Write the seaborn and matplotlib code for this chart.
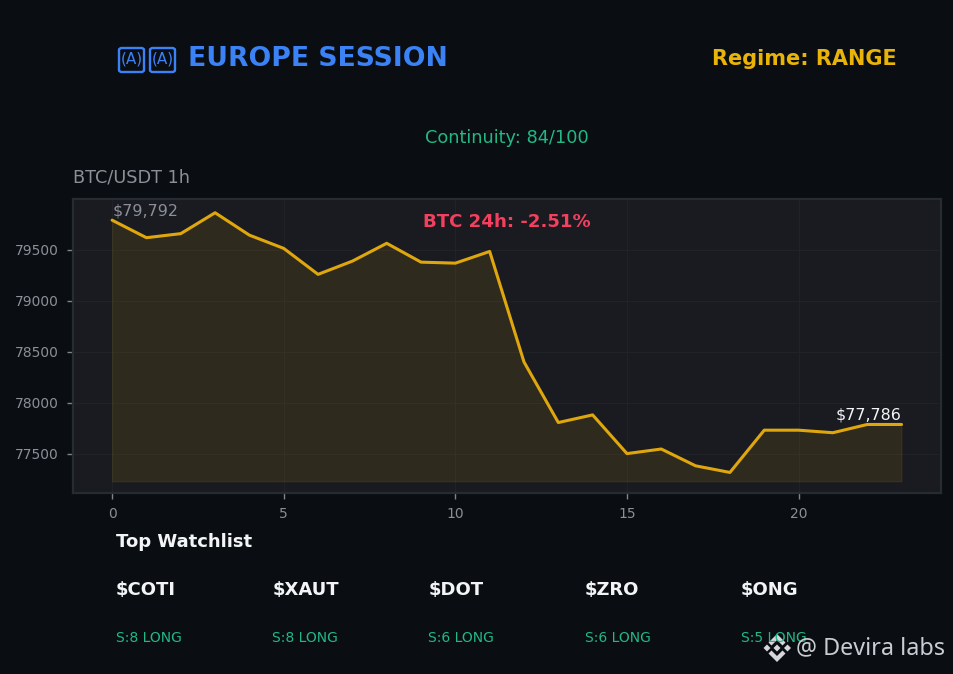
import matplotlib
matplotlib.use("Agg")
import matplotlib.pyplot as plt
from matplotlib.patches import Polygon, FancyBboxPatch
import seaborn as sns
import pandas as pd

hours = list(range(24))
prices = [79792, 79620, 79660, 79865, 79645, 79515, 79260, 79390, 79565, 79380, 79370, 79485,
          78400, 77805, 77880, 77500, 77545, 77380, 77315, 77730, 77730, 77705, 77786, 77786]
fill_floor = 77228
tickers = ["$COTI", "$XAUT", "$DOT", "$ZRO", "$ONG"]
signals = ["S:8 LONG", "S:8 LONG", "S:6 LONG", "S:6 LONG", "S:5 LONG"]

BG = "#0a0e12"; PANEL = "#1a1b21"; GOLD = "#eab308"; LINE = "#dfa70d"
BLUE = "#3b82f6"; GREEN = "#22b884"; GREY = "#8b8f97"; RED = "#f43f5e"; WHITE = "#f3f4f6"

sns.set_theme(style="dark")
plt.rcParams["font.family"] = ["DejaVu Sans"]
W, H = 954, 674
fig = plt.figure(figsize=(W/100, H/100), dpi=100, facecolor=BG)
ax = fig.add_axes([73/W, 1-492.5/H, (941-73)/W, (492.5-199)/H], facecolor=PANEL)

df = pd.DataFrame({"hour": hours, "price": prices})
ax.fill_between(hours, prices, fill_floor, color=GOLD, alpha=0.10, lw=0.8)
sns.lineplot(data=df, x="hour", y="price", ax=ax, color=LINE, lw=2.2, errorbar=None)

ax.set_xlim(-1.14, 24.15)
ax.set_ylim(77118, 80000)
ax.set_xticks([0, 5, 10, 15, 20])
ax.set_yticks([77500, 78000, 78500, 79000, 79500])
ax.set_xlabel(""); ax.set_ylabel("")
ax.grid(True, color="#212227", lw=0.8)
ax.set_axisbelow(True)
ax.tick_params(colors=GREY, labelsize=10, length=4, width=1, pad=6.5, left=True, bottom=True, color="#80848c")
for s in ax.spines.values():
    s.set_color("#272b32"); s.set_linewidth(1.6)

ax.annotate(f"${prices[0]:,}", (hours[0], prices[0]), xytext=(0, 3.7), textcoords="offset points",
            color=GREY, fontsize=11.5)
ax.annotate(f"${prices[-1]:,}", (hours[-1], prices[-1]), xytext=(0, 3.7), textcoords="offset points",
            color=WHITE, fontsize=11.4, ha="right")

def t(x, y, s, **k):
    k.setdefault("va", "center")
    fig.text(x/W, 1-y/H, s, **k)
def px(x, y): return (x/W, 1-y/H)

# the two flag emoji have no glyph in any installed family: drawn as the boxes the reference shows
for x0 in (119, 150):
    fig.add_artist(FancyBboxPatch(px(x0, 72), 25/W, 24/H, boxstyle="round,pad=0,rounding_size=0.003",
                                  transform=fig.transFigure, fc="none", ec=BLUE, lw=1.7))
    t(x0+12.5, 59.5, "(A)", color=BLUE, fontsize=11, ha="center")
t(188, 59, "EUROPE SESSION", color=BLUE, fontsize=19.2, fontweight="bold")
t(897, 59, "Regime: RANGE", color=GOLD, fontsize=15, fontweight="bold", ha="right")
t(507, 138, "Continuity: 84/100", color=GREEN, fontsize=12.8, ha="center")
t(73, 178, "BTC/USDT 1h", color=GREY, fontsize=12.7)
t(507, 222, "BTC 24h: -2.51%", color=RED, fontsize=13.1, fontweight="bold", ha="center")
t(116, 542, "Top Watchlist", color=WHITE, fontsize=13, fontweight="bold")
for i, (a, b) in enumerate(zip(tickers, signals)):
    x = 116 + i*156.2
    t(x, 590, a, color=WHITE, fontsize=13, fontweight="bold")
    t(x, 638, b, color=GREEN, fontsize=10)

# watermark
t(796, 648, "@ Devira labs", color="#c9ccd2", fontsize=16.8, family="Noto Sans")
LOGO = "#d5d7db"
for cx, cy, r in [(777, 648, 3.5), (767, 648, 3.5), (787.5, 648, 3.5)]:
    fig.add_artist(Polygon([px(cx-r, cy), px(cx, cy-r), px(cx+r, cy), px(cx, cy+r)],
                           closed=True, transform=fig.transFigure, color=LOGO, lw=0))
for sign in (-1, 1):
    tip = 648 + sign*14
    fig.add_artist(Polygon([px(777, tip), px(768.5, tip-sign*8.5), px(771.5, tip-sign*11.5),
                            px(777, tip-sign*6), px(782.5, tip-sign*11.5), px(785.5, tip-sign*8.5)],
                           closed=True, transform=fig.transFigure, color=LOGO, lw=0))

fig.savefig("out.png", dpi=100, facecolor=BG)
